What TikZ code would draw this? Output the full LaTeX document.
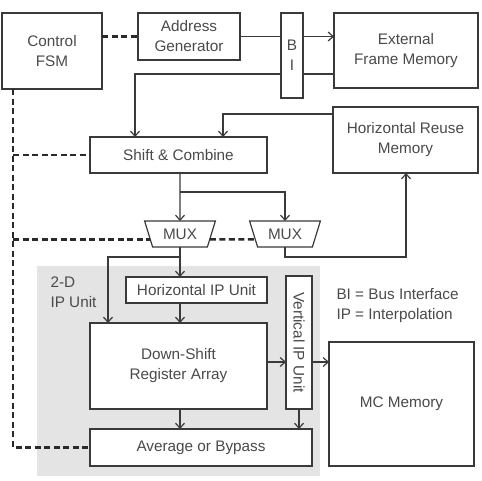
\documentclass[tikz,border=0pt]{standalone}
\usepackage{fontspec}
\setmainfont{Liberation Sans}
\usetikzlibrary{arrows.meta,shapes.geometric,calc}
\definecolor{ln}{HTML}{3A3A3A}
\definecolor{dk}{HTML}{2A2A2A}
\definecolor{tx}{HTML}{4A4A4A}
\definecolor{bg}{HTML}{E4E4E4}
\begin{document}
\begin{tikzpicture}[x=1pt,y=-1pt,
  every node/.style={font=\fontsize{15.3}{20}\selectfont, text=tx},
  box/.style={draw=ln, line width=1.2pt, fill=white, inner sep=0pt, outer sep=0pt, align=center},
  mux/.style={draw=ln, line width=1.2pt, fill=white, trapezium, shape border rotate=180,
     trapezium stretches=true, trapezium angle=65, minimum width=71pt, minimum height=26pt, inner sep=0pt, outer sep=0pt},
  wire/.style={draw=ln, line width=1.2pt},
  arr/.style={wire, -{Straight Barb[length=5pt,width=9pt,line width=1.2pt]}},
  ctl/.style={draw=dk, line width=2.5pt, dash pattern=on 6pt off 3.5pt}]
\useasboundingbox (0,0) rectangle (482,480);
\fill[bg] (37,266) rectangle (320,476);
\node[anchor=north west, align=left, text=tx] (lbl2d) at (47,273) {2-D\\IP Unit};
\node[anchor=north west, align=left] (legend) at (333,285) {BI = Bus Interface\\IP = Interpolation};

\node[box, minimum width=100pt, minimum height=76pt] (fsm) at (52,51) {Control\\FSM};
\node[box, minimum width=102pt, minimum height=47pt] (ag) at (189,36.5) {Address\\Generator};
\node[box, minimum width=22pt, minimum height=85pt] (bi) at (292,55.5) {B\\I};
\node[box, minimum width=144pt, minimum height=75pt] (efm) at (406,50.5) {External\\Frame Memory};
\node[box, minimum width=145pt, minimum height=66pt] (hrm) at (405.5,140) {Horizontal Reuse\\Memory};
\node[box, minimum width=177pt, minimum height=36pt] (sc) at (178.5,155) {Shift \& Combine};
\node[mux] (m1) at (180,234) {MUX};
\node[mux] (m2) at (285,234) {MUX};
\node[box, minimum width=141pt, minimum height=26pt] (hip) at (196.5,290) {Horizontal IP Unit};
\node[box, minimum width=177pt, minimum height=86pt] (ds) at (178.5,366) {Down-Shift\\Register Array};
\node[box, minimum width=26pt, minimum height=133pt] (vip) at (299,342.5) {\rotatebox{-90}{Vertical IP Unit}};
\node[box, minimum width=145pt, minimum height=124pt] (mc) at (401.5,404) {MC Memory};
\node[box, minimum width=222pt, minimum height=37pt] (aob) at (201,447.5) {Average or Bypass};

\coordinate (c1) at (135,74);
\coordinate (c2) at (223,114);
\coordinate (c3) at (180,192);
\coordinate (c4) at (108,257);
\coordinate (c5) at (406,257);
\coordinate (k) at (13,89);

% address / bus
\draw[wire] (ag.east) -- (ag.east -| bi.west);
\draw[arr] (ag.east -| bi.east) -- (ag.east -| efm.west);
\draw[wire] (c1 -| efm.west) -- (c1 -| bi.east);
\draw[arr] (c1 -| bi.west) -- (c1) -- (c1 |- sc.north);
\draw[arr] (c2 -| hrm.west) -- (c2) -- (c2 |- sc.north);
% shift & combine to muxes
\draw[arr] (c3 |- sc.south) -- (m1.north);
\draw[arr] (c3) -- (c3 -| m2.north) -- (m2.north);
\draw[arr] (m1.south) -- (m1.south |- hip.north);
\draw[arr] (c4 -| m1.south) -- (c4) -- (c4 |- ds.north);
\draw[arr] (m2.south) -- (m2.south |- c5) -- (c5) -- (c5 |- hrm.south);
\draw[arr] (m1.south |- hip.south) -- (m1.south |- ds.north);
\draw[arr] (ds.east |- 0,362) -- (vip.west |- 0,362);
\draw[arr] (vip.east |- 0,362) -- (mc.west |- 0,362);
\draw[arr] (m1.south |- ds.south) -- (m1.south |- aob.north);
\draw[arr] (vip.south) -- (vip.south |- aob.north);
% control
\draw[ctl] (ag.west -| fsm.east) -- (ag.west);
\draw[ctl] (k) -- (k |- aob.west) -- (aob.west);
\draw[ctl] (k |- sc.west) -- (sc.west);
\draw[ctl] (k |- m1.190) -- (m1.190);
\draw[ctl] (m1.350) -- (m2.190);
\end{tikzpicture}
\end{document}
